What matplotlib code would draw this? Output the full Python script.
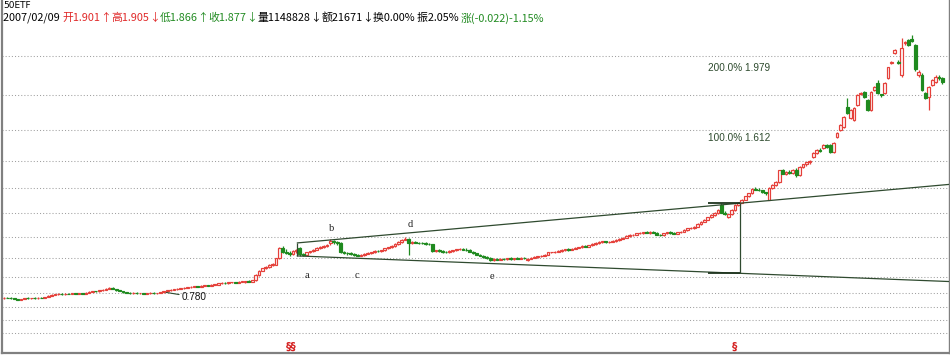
import matplotlib
matplotlib.use("Agg")
import matplotlib.pyplot as plt
import numpy as np

W, H = 950, 355

TITLE = "50ETF"
HEADER = [
    ("2007/02/09 ", "#000000"), ("开1.901", "#e02828"), ("↑", "#e02828"),
    ("高1.905", "#e02828"), ("↓", "#e02828"), ("低1.866", "#228b22"),
    ("↑", "#228b22"), ("收1.877", "#228b22"), ("↓", "#228b22"),
    ("量1148828", "#000000"), ("↓", "#000000"), ("额21671", "#000000"),
    ("↓", "#000000"), ("换0.00% ", "#000000"), ("振2.05% ", "#000000"),
    ("涨(-0.022)-1.15%", "#228b22"),
]

OPEN = [
    .748, .751, .749, .747, .743, .739, .744, .748, .747, .750,
    .748, .751, .749, .755, .761, .767, .769, .771, .768, .772,
    .770, .773, .771, .775, .772, .777, .782, .786, .783, .789,
    .793, .797, .803, .796, .790, .785, .779, .776, .774, .777,
    .773, .775, .772, .774, .776, .773, .775, .779, .785, .789,
    .792, .795, .797, .800, .803, .805, .808, .811, .808, .813,
    .816, .814, .818, .818, .826, .828, .825, .830, .832, .829,
    .834, .830, .838, .835, .841, .868, .892, .904, .912, .921,
    .924, .957, 1.010, .992, .986, .980, .994, 1.012, .978, .974,
    .988, .993, 1.002, 1.011, 1.016, 1.020, 1.035, 1.045, 1.040, 1.036,
    .990, .984, .982, .978, .975, .971, .973, .981, .986, .989,
    .996, .994, .998, 1.010, 1.015, 1.021, 1.031, 1.040, 1.054, 1.060,
    1.035, 1.042, 1.038, 1.036, 1.034, 1.032, 1.030, .995, .998, .994,
    .990, .987, .995, .999, 1.003, 1.006, 1.002, 1.000, .991, .983,
    .975, .969, .963, .958, .948, .953, .950, .955, .952, .956,
    .954, .957, .955, .959, .947, .955, .960, .963, .967, .971,
    .975, .987, .989, .992, .995, 1.000, 1.003, 1.001, 1.007, 1.012,
    1.016, 1.021, 1.018, 1.026, 1.031, 1.037, 1.042, 1.046, 1.041, 1.044,
    1.049, 1.053, 1.060, 1.064, 1.075, 1.078, 1.080, 1.087, 1.090, 1.093,
    1.091, 1.094, 1.090, 1.079, 1.076, 1.088, 1.093, 1.089, 1.086, 1.092,
    1.095, 1.105, 1.113, 1.117, 1.121, 1.137, 1.148, 1.158, 1.171, 1.185,
    1.194, 1.235, 1.196, 1.172, 1.187, 1.209, 1.234, 1.248, 1.264, 1.281,
    1.296, 1.320, 1.316, 1.312, 1.302, 1.264, 1.324, 1.340, 1.356, 1.416,
    1.400, 1.410, 1.404, 1.420, 1.392, 1.436, 1.448, 1.458, 1.486, 1.507,
    1.523, 1.534, 1.549, 1.549, 1.513, 1.591, 1.628, 1.643, 1.748, 1.690,
    1.680, 1.758, 1.815, 1.826, 1.785, 1.732, 1.837, 1.874, 1.815, 1.821,
    1.900, 1.978, 2.030, 1.985, 1.915, 2.083, 2.098, 2.105, 2.070, 1.915,
    1.915, 1.821, 1.800, 1.863, 1.879, 1.905, 1.901,
]
HIGH = [
    .752, .754, .752, .749, .745, .746, .750, .752, .751, .753,
    .752, .754, .756, .763, .769, .771, .774, .773, .774, .775,
    .775, .776, .777, .777, .779, .784, .788, .788, .791, .795,
    .799, .805, .806, .798, .792, .787, .781, .779, .778, .779,
    .777, .777, .776, .778, .778, .777, .781, .788, .791, .794,
    .797, .799, .802, .806, .808, .811, .814, .813, .815, .818,
    .818, .820, .823, .828, .831, .830, .832, .835, .834, .836,
    .838, .840, .841, .843, .872, .896, .908, .916, .925, .930,
    .960, 1.014, 1.020, 1.003, .995, .998, 1.004, 1.018, .985, .992,
    .996, 1.005, 1.014, 1.020, 1.024, 1.031, 1.058, 1.052, 1.048, 1.040,
    .996, .990, .987, .982, .979, .977, .984, .990, .992, .999,
    1.002, 1.001, 1.012, 1.018, 1.024, 1.034, 1.045, 1.058, 1.066, 1.064,
    1.045, 1.046, 1.044, 1.042, 1.040, 1.036, 1.033, 1.002, 1.003, .998,
    .995, .998, 1.002, 1.006, 1.010, 1.011, 1.008, 1.003, .994, .986,
    .978, .972, .966, .962, .956, .958, .958, .960, .958, .961,
    .960, .962, .961, .963, .958, .962, .966, .970, .974, .978,
    .990, .992, .995, .998, 1.003, 1.006, 1.008, 1.010, 1.015, 1.018,
    1.024, 1.025, 1.028, 1.034, 1.040, 1.045, 1.048, 1.049, 1.047, 1.052,
    1.056, 1.062, 1.068, 1.078, 1.082, 1.084, 1.090, 1.094, 1.096, 1.098,
    1.097, 1.098, 1.093, 1.084, 1.090, 1.096, 1.097, 1.094, 1.095, 1.098,
    1.108, 1.116, 1.120, 1.124, 1.140, 1.152, 1.162, 1.175, 1.188, 1.198,
    1.212, 1.248, 1.205, 1.190, 1.212, 1.238, 1.252, 1.268, 1.285, 1.300,
    1.326, 1.328, 1.324, 1.316, 1.306, 1.330, 1.345, 1.360, 1.420, 1.425,
    1.415, 1.420, 1.425, 1.430, 1.440, 1.452, 1.462, 1.472, 1.512, 1.528,
    1.532, 1.553, 1.552, 1.555, 1.565, 1.616, 1.660, 1.700, 1.795, 1.736,
    1.748, 1.815, 1.826, 1.832, 1.790, 1.830, 1.856, 1.889, 1.818, 1.878,
    1.960, 1.990, 2.050, 1.995, 2.109, 2.095, 2.105, 2.125, 2.080, 1.940,
    1.925, 1.826, 1.856, 1.895, 1.915, 1.918, 1.905,
]
LOW = [
    .745, .747, .744, .741, .737, .737, .742, .745, .744, .746,
    .745, .747, .748, .753, .759, .764, .766, .766, .766, .768,
    .768, .769, .769, .770, .771, .775, .779, .781, .782, .787,
    .790, .795, .794, .788, .783, .777, .773, .772, .772, .771,
    .771, .770, .770, .772, .771, .771, .773, .777, .782, .786,
    .789, .791, .794, .798, .800, .803, .806, .805, .807, .810,
    .811, .812, .815, .816, .823, .822, .823, .827, .826, .827,
    .830, .829, .832, .833, .839, .865, .888, .899, .908, .916,
    .920, .955, .985, .978, .970, .976, .985, .970, .968, .972,
    .982, .990, .998, 1.006, 1.010, 1.016, 1.025, 1.030, 1.028, .985,
    .980, .976, .974, .970, .967, .966, .971, .978, .980, .986,
    .990, .989, .996, 1.006, 1.012, 1.018, 1.028, 1.038, 1.050, .974,
    1.030, 1.034, 1.032, 1.030, 1.028, 1.026, .990, .988, .990, .986,
    .982, .985, .990, .995, .999, .999, .996, .988, .980, .972,
    .966, .960, .955, .944, .944, .946, .947, .949, .948, .950,
    .950, .952, .951, .953, .944, .952, .956, .960, .963, .967,
    .973, .982, .984, .988, .991, .995, .997, .999, 1.004, 1.008,
    1.013, 1.014, 1.016, 1.022, 1.028, 1.033, 1.036, 1.038, 1.036, 1.040,
    1.044, 1.049, 1.056, 1.061, 1.070, 1.071, 1.076, 1.082, 1.085, 1.087,
    1.086, 1.087, 1.076, 1.072, 1.074, 1.084, 1.085, 1.082, 1.083, 1.087,
    1.092, 1.101, 1.108, 1.112, 1.118, 1.133, 1.145, 1.155, 1.168, 1.180,
    1.190, 1.192, 1.182, 1.166, 1.184, 1.205, 1.230, 1.244, 1.260, 1.276,
    1.292, 1.312, 1.308, 1.298, 1.290, 1.260, 1.320, 1.336, 1.352, 1.395,
    1.390, 1.398, 1.400, 1.380, 1.388, 1.430, 1.442, 1.452, 1.480, 1.503,
    1.515, 1.530, 1.535, 1.508, 1.510, 1.585, 1.624, 1.638, 1.712, 1.685,
    1.676, 1.754, 1.810, 1.795, 1.728, 1.728, 1.832, 1.816, 1.800, 1.815,
    1.895, 1.972, 2.025, 1.972, 1.905, 2.075, 2.068, 2.090, 1.938, 1.905,
    1.832, 1.790, 1.732, 1.858, 1.872, 1.892, 1.866,
]
CLOSE = [
    .750, .749, .747, .743, .739, .744, .748, .747, .750, .748,
    .751, .749, .755, .761, .767, .769, .771, .768, .772, .770,
    .773, .771, .775, .772, .777, .782, .786, .783, .789, .793,
    .797, .803, .796, .790, .785, .779, .776, .774, .777, .773,
    .775, .772, .774, .776, .773, .775, .779, .785, .789, .792,
    .795, .797, .800, .803, .805, .808, .811, .808, .813, .816,
    .814, .818, .820, .826, .828, .825, .830, .832, .829, .834,
    .836, .838, .835, .841, .868, .892, .904, .912, .921, .926,
    .957, 1.010, .992, .986, .980, .994, .998, .978, .974, .988,
    .993, 1.002, 1.011, 1.016, 1.020, 1.027, 1.045, 1.040, 1.035, .990,
    .984, .982, .978, .975, .971, .973, .981, .986, .989, .996,
    .994, .998, 1.010, 1.015, 1.021, 1.031, 1.042, 1.054, 1.060, 1.035,
    1.042, 1.038, 1.036, 1.034, 1.032, 1.030, .995, .998, .994, .990,
    .987, .995, .999, 1.003, 1.006, 1.002, 1.000, .991, .983, .975,
    .969, .963, .958, .948, .953, .950, .955, .952, .956, .954,
    .957, .955, .959, .956, .955, .960, .963, .967, .971, .975,
    .987, .989, .992, .995, 1.000, 1.003, 1.001, 1.007, 1.012, 1.016,
    1.021, 1.018, 1.026, 1.031, 1.037, 1.042, 1.046, 1.041, 1.044, 1.049,
    1.053, 1.060, 1.064, 1.075, 1.078, 1.080, 1.087, 1.090, 1.093, 1.091,
    1.094, 1.090, 1.079, 1.076, 1.088, 1.093, 1.089, 1.086, 1.092, 1.095,
    1.105, 1.113, 1.117, 1.121, 1.137, 1.148, 1.158, 1.171, 1.185, 1.194,
    1.207, 1.196, 1.186, 1.187, 1.209, 1.234, 1.248, 1.264, 1.281, 1.296,
    1.320, 1.316, 1.312, 1.302, 1.296, 1.324, 1.340, 1.356, 1.416, 1.400,
    1.410, 1.404, 1.420, 1.392, 1.436, 1.448, 1.458, 1.468, 1.507, 1.523,
    1.520, 1.549, 1.539, 1.513, 1.560, 1.612, 1.654, 1.696, 1.717, 1.732,
    1.743, 1.811, 1.821, 1.800, 1.732, 1.826, 1.853, 1.821, 1.811, 1.874,
    1.957, 1.983, 2.046, 1.978, 2.057, 2.088, 2.072, 2.095, 1.945, 1.931,
    1.837, 1.795, 1.853, 1.889, 1.905, 1.899, 1.877,
]

# dotted horizontal guide levels of the price panel
GRID_LEVELS = [2.015, 1.811, 1.628, 1.466, 1.324, 1.194, 1.068,
               0.958, 0.859, 0.775, 0.702, 0.634, 0.566]

# rising channel (candle index, price)
CHANNEL_X = [86.3, 277.9]
UPPER_Y = [1.037, 1.343]
LOWER_Y = [0.969, 0.835]
BREAK_X = 216.5
FIB_FROM = 207
FIB_LABELS = ["100.0%", "200.0%"]
FIB_VALUES = [1.612, 1.979]

LOW_MARK_IDX = 47
LOW_MARK = 0.780

WAVE_LABELS = ["a", "b", "c", "d", "e"]
WAVE_IDX = [89.1, 96.2, 103.8, 119.4, 143.5]
WAVE_Y = [0.869, 1.115, 0.864, 1.131, 0.859]

EVENT_IDX = [84.4, 214.8]
EVENT_MARK = ["§§", "§"]

RED = "#e5403a"
GREEN = "#1f8a1f"
LINE = "#2f4a2f"
CJK = ["Noto Sans CJK SC", "DejaVu Sans"]

plt.rcParams["lines.scale_dashes"] = False

fig = plt.figure(figsize=(W / 100, H / 100), dpi=100)
ax = fig.add_axes([2 / W, 2 / H, 947 / W, 353 / H])
ax.set_xlim(-0.588, 277.94)
ax.set_ylim(0.461, 2.308)
ax.set_xticks([])
ax.set_yticks([])
ax.spines["top"].set_visible(False)
for side, lw in (("left", 1.6), ("bottom", 1.6), ("right", 1.0)):
    ax.spines[side].set_color("#808080")
    ax.spines[side].set_linewidth(lw)

for level in GRID_LEVELS:
    ax.axhline(level, color="#a0a0a0", lw=0.75, linestyle=(0, (0.75, 1.5)), zorder=1)

# candles
idx = np.arange(len(CLOSE))
o, h, l, c = (np.array(v) for v in (OPEN, HIGH, LOW, CLOSE))
up = c >= o
ax.vlines(idx, l, h, colors=np.where(up, RED, GREEN), lw=0.9, zorder=3)
ax.bar(idx[up], (c - o)[up], bottom=o[up], width=0.8,
       facecolor="#fff4f4", edgecolor=RED, lw=0.85, zorder=4)
ax.bar(idx[~up], (o - c)[~up], bottom=c[~up], width=0.8,
       facecolor=GREEN, edgecolor=GREEN, lw=0.85, zorder=4)

# channel and breakout projection
ax.plot(CHANNEL_X, UPPER_Y, color=LINE, lw=0.9, zorder=5)
ax.plot(CHANNEL_X, LOWER_Y, color=LINE, lw=0.9, zorder=5)
ax.vlines(CHANNEL_X[0], LOWER_Y[0], UPPER_Y[0], color=LINE, lw=0.9, zorder=5)
b_hi = np.interp(BREAK_X, CHANNEL_X, UPPER_Y)
b_lo = np.interp(BREAK_X, CHANNEL_X, LOWER_Y)
ax.vlines(BREAK_X, b_lo, b_hi, color=LINE, lw=0.9, zorder=5)
ax.hlines([b_hi, b_lo], FIB_FROM, BREAK_X, color="#1f351f", lw=1.3, zorder=5)
for lab, val in zip(FIB_LABELS, FIB_VALUES):
    ax.text(FIB_FROM, val, f"{lab} {val:.3f}", ha="left", va="top",
            fontsize=7.2, family="Liberation Sans", color="#2d4a2d")

ax.annotate(f"{LOW_MARK:.3f}", xy=(LOW_MARK_IDX, LOW_MARK), xytext=(13, -3.6),
            textcoords="offset points", ha="left", va="center",
            fontsize=7.2, family="Liberation Sans", color="#111111",
            arrowprops=dict(arrowstyle="-", color="#2f4a2f", lw=0.8,
                            shrinkA=0, shrinkB=1))

for lab, xi, yi in zip(WAVE_LABELS, WAVE_IDX, WAVE_Y):
    ax.text(xi, yi, lab, ha="center", va="center", fontsize=7.5,
            family="Liberation Serif", color="#222222")

for xi, mark in zip(EVENT_IDX, EVENT_MARK):
    ax.text(xi, 0.017, mark, transform=ax.get_xaxis_transform(), ha="center",
            va="center", fontsize=7.5, fontweight="bold", color="#d42020")

# header
fig.text(3 / W, 1 - 6 / H, TITLE, fontsize=6.5, va="center", color="#000000")
renderer = fig.canvas.get_renderer()
probe = [fig.text(0, 0, s, fontsize=8, family=CJK) for s, _ in HEADER]
total = sum(t.get_window_extent(renderer).width for t in probe)
for t in probe:
    t.remove()
size = 8 * 542 / total
x = 3
for s, col in HEADER:
    t = fig.text(x / W, 1 - 18 / H, s, fontsize=size, family=CJK, color=col, va="center")
    x += t.get_window_extent(renderer).width

fig.savefig("out.png", dpi=100, facecolor="white")
